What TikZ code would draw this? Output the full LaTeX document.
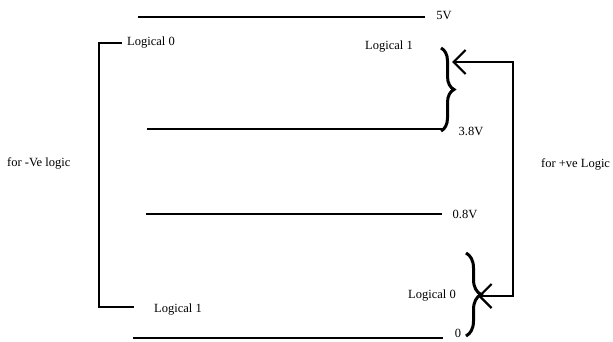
\documentclass[tikz,border=0pt]{standalone}
\usepackage{fontspec}
\setmainfont{Liberation Serif}
\usetikzlibrary{arrows.meta,decorations.pathreplacing}
\begin{document}
\begin{tikzpicture}[x=1pt,y=-1pt,
  lbl/.style={inner sep=0pt,font=\fontsize{12.5}{14}\selectfont},
  level/.style={line width=2.8pt},
  bracket/.style={line width=2.6pt},
  bigbrace/.style={line width=3pt,decorate,decoration={brace,amplitude=#1}},
  barrow/.style={line width=2.2pt,{Straight Barb[length=12pt,width=24pt]}-{Straight Barb[length=12pt,width=24pt]}}]
\useasboundingbox (0,0) rectangle (613,341);
% level lines
\coordinate (l5a) at (138,17);  \coordinate (l5b) at (425,17);
\coordinate (l38a) at (147,129); \coordinate (l38b) at (443,129);
\coordinate (l08a) at (146,214); \coordinate (l08b) at (442,214);
\coordinate (l0a) at (133,338);  \coordinate (l0b) at (443,338);
\draw[level] (l5a) -- (l5b);
\draw[level] (l38a) -- (l38b);
\draw[level] (l08a) -- (l08b);
\draw[level] (l0a) -- (l0b);
% labels
\node[lbl] (v5) at (444,15) {5V};
\node[lbl] (v38) at (471,131) {3.8V};
\node[lbl] (v0) at (458,333) {0};
\node[lbl] (v08) at (465,214) {0.8V};
\node[lbl,anchor=west] (ltop0) at (127,43) {Logical 0};
\node[lbl] (ltop1) at (389,47) {Logical 1};
\node[lbl] (lbot0) at (432,296) {Logical 0};
\node[lbl] (lbot1) at (178,310) {Logical 1};
\node[lbl,anchor=west] (neg) at (7,163) {for -Ve logic};
\node[lbl,anchor=west] (pos) at (541,164) {for +ve Logic};
% left bracket
\coordinate (bt) at (122,43); \coordinate (btc) at (99,43);
\coordinate (bbc) at (99,307); \coordinate (bb) at (134,307);
\draw[bracket] (bt) -- (btc) -- (bbc) -- (bb);
% braces
\coordinate (b1t) at (441,48); \coordinate (b1b) at (441,131);
\coordinate (b2t) at (466,253); \coordinate (b2b) at (466,336);
\draw[bigbrace=13pt] (b1t) -- (b1b);
\draw[bigbrace=15pt] (b2t) -- (b2b);
% right arrow path
\coordinate (ta) at (452,62); \coordinate (rc1) at (513,62);
\coordinate (rc2) at (513,296); \coordinate (tb) at (478,296);
\draw[barrow] (ta) -- (rc1) -- (rc2) -- (tb);
\end{tikzpicture}
\end{document}
